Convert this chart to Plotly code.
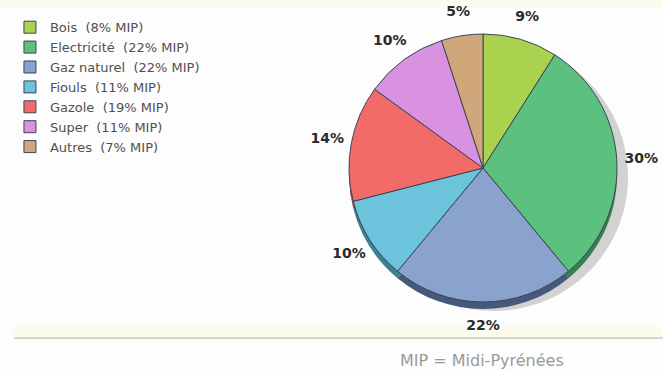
import plotly.graph_objects as go

# Energy consumption breakdown (local share vs. Midi-Pyrénées share)
energies = ["Bois", "Electricité", "Gaz naturel", "Fiouls", "Gazole", "Super", "Autres"]
local_share = [9, 30, 22, 10, 14, 10, 5]
mip_share = [8, 22, 22, 11, 19, 11, 7]

colors = ["#aad24e", "#5cc07e", "#8aa3cc", "#6cc3dc", "#f26b69", "#d992e0", "#cfa77a"]
dark_colors = ["#6e8a30", "#3b7d52", "#46597a", "#3f7f92", "#9c4442", "#8c5a92", "#836a50"]

legend_labels = [f"{n}  ({m}% MIP)" for n, m in zip(energies, mip_share)]

W, H = 663, 371
cx, cy, r = 483, 168, 134


def dom(dx=0, dy=0, rad=r):
    return dict(
        x=[(cx - rad + dx) / W, (cx + rad + dx) / W],
        y=[1 - (cy + rad + dy) / H, 1 - (cy - rad + dy) / H],
    )


common = dict(labels=legend_labels, values=local_share, sort=False, direction="clockwise")
label_font = dict(family="DejaVu Sans", size=14, color="#2a2a2a")
# wide, symmetric padding keeps each label horizontal and centred on its slice
pad = "\u00a0" * 7

fig = go.Figure()

# soft drop shadow
fig.add_trace(go.Pie(
    **common, marker=dict(colors=["#d2d2d2"] * len(energies), line=dict(width=0)),
    textinfo="none", hoverinfo="skip", showlegend=False, domain=dom(11, 9),
))
# pie thickness (darker rim)
fig.add_trace(go.Pie(
    **common, marker=dict(colors=dark_colors, line=dict(width=0)),
    textinfo="none", hoverinfo="skip", showlegend=False, domain=dom(0, 7),
))
# thin transparent ring around the pie that carries the percentage labels
fig.add_trace(go.Pie(
    **common, hole=0.9,
    marker=dict(colors=["rgba(0,0,0,0)"] * len(energies), line=dict(width=0)),
    textposition="inside", insidetextorientation="horizontal",
    texttemplate=pad + "<b>%{value}%</b>" + pad,
    textfont=label_font, insidetextfont=label_font,
    hoverinfo="skip", showlegend=False, domain=dom(rad=167),
))
# main pie
fig.add_trace(go.Pie(
    **common, marker=dict(colors=colors, line=dict(color="#3a4658", width=1)),
    textinfo="none",
    hovertemplate="%{label}: %{value}%<extra></extra>",
    domain=dom(), showlegend=True,
))

fig.update_layout(
    width=W, height=H,
    margin=dict(l=0, r=0, t=0, b=0),
    paper_bgcolor="#fdfdfd",
    plot_bgcolor="#fdfdfd",
    uniformtext=dict(minsize=14, mode="show"),
    legend=dict(
        x=0.015, y=0.967, xanchor="left", yanchor="top",
        font=dict(family="DejaVu Sans", size=13, color="#505050"),
        bgcolor="rgba(0,0,0,0)", tracegroupgap=0, itemclick=False,
    ),
    shapes=[
        dict(type="rect", xref="paper", yref="paper", x0=0, x1=1,
             y0=1 - 8 / H, y1=1, fillcolor="#fbfbee", line=dict(width=0), layer="below"),
        dict(type="rect", xref="paper", yref="paper", x0=14 / W, x1=1,
             y0=1 - 337 / H, y1=1 - 326 / H, fillcolor="#fcfcee", line=dict(width=0), layer="below"),
        dict(type="line", xref="paper", yref="paper", x0=14 / W, x1=1,
             y0=1 - 338 / H, y1=1 - 338 / H, line=dict(color="#c8c8bc", width=1.5)),
    ],
    annotations=[
        dict(text="MIP = Midi-Pyrénées", xref="paper", yref="paper",
             x=482 / W, y=1 - 360 / H, xanchor="center", yanchor="middle",
             showarrow=False, font=dict(family="DejaVu Sans", size=16, color="#9a9a9a")),
    ],
)

fig.write_html("out.html")
